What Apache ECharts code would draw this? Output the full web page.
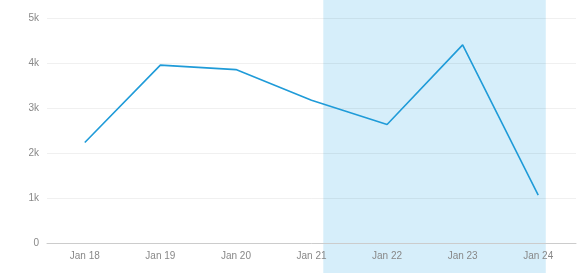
<!DOCTYPE html>
<html><head><meta charset="utf-8">
<script src="https://cdn.jsdelivr.net/npm/echarts@6/dist/echarts.min.js"></script>
<style>html,body{margin:0;padding:0;background:#fff}#c{width:582px;height:273px}</style>
</head><body><div id="c"></div>
<script>
const categories = ['Jan 18','Jan 19','Jan 20','Jan 21','Jan 22','Jan 23','Jan 24'];
const values = [2240, 3960, 3860, 3180, 2640, 4410, 1070];
const yTicks = [0, 1000, 2000, 3000, 4000, 5000];
const shadeRange = [3.656, 6.6]; // in category-band units

const chart = echarts.init(document.getElementById('c'), null, {renderer:'canvas'});
chart.setOption({
  animation: false,
  grid: [
    {left: 47, right: 6, top: 18.3, bottom: 29.7, containLabel: false},
    {left: 47, right: 6, top: 0, bottom: 0, containLabel: false}
  ],
  xAxis: [
    {type: 'category', gridIndex: 0, data: categories, boundaryGap: true, z: 5,
     axisLine: {lineStyle: {color: '#cccccc'}},
     axisTick: {alignWithLabel: true, length: 4, lineStyle: {color: '#cccccc'}},
     axisLabel: {color: '#888', fontSize: 10, margin: 8, fontFamily: 'Liberation Sans'},
     splitLine: {show: false}},
    {type: 'value', gridIndex: 1, min: 0, max: categories.length, show: false}
  ],
  yAxis: [
    {type: 'value', gridIndex: 0, min: yTicks[0], max: yTicks[yTicks.length-1], interval: 1000, z: 5,
     axisLine: {show: false}, axisTick: {show: false},
     axisLabel: {color: '#888', fontSize: 10, margin: 8, fontFamily: 'Liberation Sans',
       formatter: v => v === 0 ? '0' : (v/1000) + 'k'},
     splitLine: {lineStyle: {color: 'rgba(0,0,0,0.06)'}}},
    {type: 'value', gridIndex: 1, min: 0, max: 1, show: false}
  ],
  series: [
    {type: 'line', xAxisIndex: 0, yAxisIndex: 0, data: values, z: 6,
     showSymbol: false, symbol: 'none',
     lineStyle: {color: '#1f9bd8', width: 1.6}},
    {type: 'line', xAxisIndex: 1, yAxisIndex: 1, data: [], z: 1, silent: true,
     markArea: {silent: true, itemStyle: {color: '#d6eefa'},
       data: [[{xAxis: shadeRange[0]}, {xAxis: shadeRange[1]}]]}}
  ]
});
</script></body></html>
